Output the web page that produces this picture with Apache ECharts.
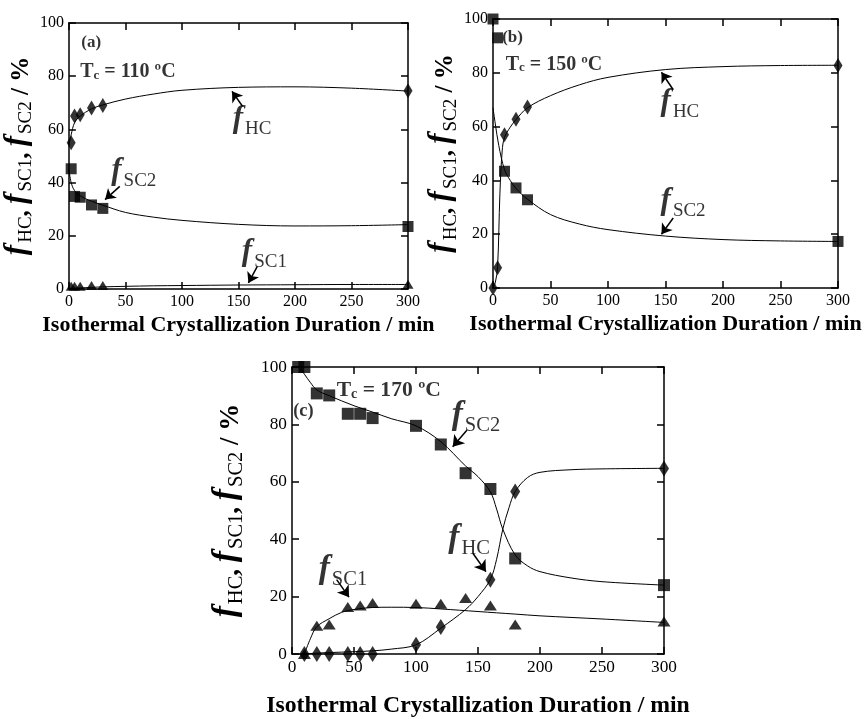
<!DOCTYPE html>
<html><head><meta charset="utf-8">
<script src="https://cdn.jsdelivr.net/npm/echarts@6/dist/echarts.min.js"></script>
<style>html,body{margin:0;padding:0;background:#fff}#c{width:868px;height:719px}</style>
</head><body><div id="c"></div>
<script>
// ---------- Panel (a): Tc = 110 C ----------
const aTime = [2, 5, 10, 20, 30, 300];
const aHC   = [55, 65, 65.5, 68, 69, 74.5];
const aSC1  = [1, 1, 1, 1.3, 1.3, 1.8];
const aSC2  = [45.2, 34.8, 34.5, 31.6, 30.3, 23.5];
const aFitX   = [0, 2, 5, 10, 20, 30, 50, 75, 100, 150, 200, 250, 300];
const aFitHC  = [54, 58, 62.5, 65, 67.7, 69.2, 71.4, 73.3, 74.7, 75.8, 76, 75.5, 74.4];
const aFitSC2 = [45, 40, 37, 35, 33, 31.5, 28.8, 27, 25.8, 24.3, 23.7, 23.8, 24.2];
const aFitSC1 = [0, 0.2, 0.3, 0.4, 0.6, 0.8, 1.0, 1.2, 1.3, 1.5, 1.6, 1.7, 1.7];

// ---------- Panel (b): Tc = 150 C ----------
const bTime = [0, 4, 10, 20, 30, 300];
const bHC   = [0, 7.5, 57, 62.7, 67.3, 82.7];
const bSC2Time = [0, 4, 10, 20, 30, 300];
const bSC2  = [100, 93, 43.4, 37.2, 32.8, 17.3];
const bFitHCX = [0, 2, 4, 6, 8, 10, 15, 20, 30, 50, 75, 100, 150, 200, 250, 300];
const bFitHC  = [0, 2, 8, 35, 51, 56, 59.8, 62.6, 67, 71.5, 75.5, 78.3, 81.2, 82.3, 82.7, 82.8];
const bFitSC2X = [0, 2, 5, 10, 15, 20, 30, 50, 75, 100, 150, 200, 250, 300];
const bFitSC2  = [67, 61, 53, 44, 40, 37, 33, 27.3, 23.8, 21.7, 19.3, 18, 17.5, 17.3];

// ---------- Panel (c): Tc = 170 C ----------
const cSC2Time = [5, 10, 20, 30, 45, 55, 65, 100, 120, 140, 160, 180, 300];
const cSC2     = [100, 100, 90.8, 90.1, 83.7, 83.7, 82.2, 79.5, 73, 63, 57.5, 33.3, 24];
const cHCTime  = [10, 20, 30, 45, 55, 65, 100, 120, 160, 180, 300];
const cHC      = [0, 0, 0, 0, 0, 0, 3.2, 9.4, 25.9, 56.6, 64.6];
const cSC1Time = [10, 20, 30, 45, 55, 65, 100, 120, 140, 160, 180, 300];
const cSC1     = [0, 9.8, 10.3, 16.4, 16.9, 17.8, 17.5, 17.5, 19.5, 16.9, 10.3, 11.3];
const cFitSC2X = [7, 10, 15, 20, 30, 50, 65, 80, 100, 120, 140, 150, 160, 165, 170, 180, 190, 200, 225, 250, 300];
const cFitSC2  = [99.5, 97.5, 94.5, 92, 90, 86.5, 84.3, 82, 79.5, 74, 65.5, 61.8, 56.5, 50.5, 43.5, 34.5, 30.7, 28.7, 26.5, 25.2, 24];
const cFitHCX  = [10, 20, 30, 50, 65, 80, 100, 120, 140, 150, 160, 165, 170, 175, 180, 190, 200, 225, 250, 300];
const cFitHC   = [0, 0.3, 0.5, 0.8, 1.1, 1.7, 3.2, 9, 15.5, 20, 26, 33, 43.5, 51, 56.6, 61.5, 63.3, 64.2, 64.5, 64.7];
const cFitSC1X = [10, 15, 20, 30, 40, 50, 65, 80, 100, 120, 150, 180, 200, 250, 300];
const cFitSC1  = [0, 5.5, 9.5, 12.3, 14.5, 15.5, 16.2, 16.3, 16.2, 15.7, 14.8, 13.9, 13.3, 12.2, 11];

// ---------- Axis ticks / texts ----------
const xMin = 0, xMax = 300, xStep = 50;
const yMin = 0, yMax = 100, yStep = 20;
const xTitle = 'Isothermal Crystallization Duration / min';
const panelTags = ['(a)', '(b)', '(c)'];
const panelTemps = ['110', '150', '170'];
const tagPos  = [[11, 92.5], [8, 93], [1, 84.5]];
const tempPos = [[10, 82], [11, 83.5], [36, 92]];
const aLabels = [['HC', 145, 62.5], ['SC2', 37.5, 43], ['SC1', 153, 12.5]];
const bLabels = [['HC', 145.7, 67.5], ['SC2', 145.7, 31]];
const cLabels = [['SC2', 128.8, 81.6], ['HC', 126, 39], ['SC1', 21.5, 28]];
const aArrows = [[153.6, 68.7, 144.3, 74.3], [45, 38.6, 32, 33.6], [166.7, 8.5, 158.8, 2.3]];
const bArrows = [[156.7, 73.7, 146.5, 80.2], [156.7, 26, 146.5, 20]];
const cArrows = [[141, 78, 129.6, 72.2], [146, 35, 156.4, 28.7], [36, 25.9, 46, 19.8]];

const SERIF = 'Liberation Serif';
const zip = (xs, ys) => xs.map((x, i) => [x, ys[i]]);

function fRich(k) {
  return {
    f: {fontFamily: SERIF, fontStyle: 'italic', fontWeight: 'bold', fontSize: 31 * k, color: '#000', verticalAlign: 'bottom', lineHeight: 31 * k, padding: [0, 2, 4 * k, 0]},
    s: {fontFamily: SERIF, fontSize: 19 * k, color: '#000', verticalAlign: 'bottom', lineHeight: 19 * k},
    t: {fontFamily: SERIF, fontWeight: 'bold', fontSize: 25 * k, color: '#000', verticalAlign: 'bottom', lineHeight: 27 * k, padding: [0, 0, 2 * k, 0]},
    b: {fontFamily: SERIF, fontWeight: 'bold', fontSize: 20 * k, color: '#000', verticalAlign: 'bottom', lineHeight: 22 * k},
    sc: {fontFamily: SERIF, fontWeight: 'bold', fontSize: 13 * k, color: '#000', verticalAlign: 'bottom', lineHeight: 13 * k},
    tag: {fontFamily: SERIF, fontWeight: 'bold', fontSize: 17 * k, color: '#000'}
  };
}

const grids = [], xAxes = [], yAxes = [], series = [];
const mkLine = () => ({show: true, onZero: false, lineStyle: {color: '#000', width: 1.5}});
// NOTE: outside=false -> inside ticks; use a tick with 'inside' and explicit styles
const mkTick = () => ({show: true, inside: true, length: 7, lineStyle: {color: '#000', width: 1.5, opacity: 1}});

function addPanel(gi, rect, k, nameGapX, nameGapY, scatters, fits, labels, arrows) {
  grids.push(Object.assign({containLabel: false, show: false}, rect));
  const lab = () => ({show: true, margin: 5, color: '#000', fontFamily: SERIF, fontSize: 16 * k});
  xAxes.push({gridIndex: gi, type: 'value', min: xMin, max: xMax, interval: xStep, position: 'bottom',
    axisLine: mkLine(), axisTick: mkTick(), splitLine: {show: false}, axisLabel: lab(),
    name: xTitle, nameLocation: 'middle', nameGap: nameGapX,
    nameTextStyle: {color: '#000', fontFamily: SERIF, fontWeight: 'bold', fontSize: 22 * k}});
  xAxes.push({gridIndex: gi, type: 'value', min: xMin, max: xMax, interval: xStep, position: 'top',
    axisLine: mkLine(), axisTick: mkTick(), splitLine: {show: false}, axisLabel: {show: false}});
  yAxes.push({gridIndex: gi, type: 'value', min: yMin, max: yMax, interval: yStep, position: 'left',
    axisLine: mkLine(), axisTick: mkTick(), splitLine: {show: false}, axisLabel: lab(),
    name: '{f|f}{s|HC}{t|, }{f|f}{s|SC1}{t|, }{f|f}{s|SC2}{t| / %}',
    nameLocation: 'middle', nameRotate: 90, nameGap: nameGapY,
    nameTextStyle: {rich: fRich(k)}});
  yAxes.push({gridIndex: gi, type: 'value', min: yMin, max: yMax, interval: yStep, position: 'right',
    axisLine: mkLine(), axisTick: mkTick(), splitLine: {show: false}, axisLabel: {show: false}});
  const xi = 2 * gi, yi = 2 * gi;
  fits.forEach(d => series.push({type: 'line', xAxisIndex: xi, yAxisIndex: yi, data: d, smooth: 0.35,
    showSymbol: false, symbol: 'none', lineStyle: {color: '#000', width: 1}, z: 2, silent: true}));
  scatters.forEach(s => series.push({type: 'scatter', xAxisIndex: xi, yAxisIndex: yi, data: s.data,
    symbol: s.symbol, symbolSize: s.size, itemStyle: {color: '#000'}, z: 3, silent: true}));
  const rich = fRich(k);
  const textData = [];
  textData.push({value: tagPos[gi], label: {formatter: '{tag|' + panelTags[gi] + '}'}});
  textData.push({value: tempPos[gi], label: {formatter: '{b|T}{sc|c}{b| = ' + panelTemps[gi] + ' \u00baC}'}});
  labels.forEach(l => textData.push({value: [l[1], l[2]], label: {formatter: '{f|f}{s|' + l[0] + '}'}}));
  series.push({type: 'scatter', xAxisIndex: xi, yAxisIndex: yi, data: textData, symbolSize: 0, z: 5, silent: true,
    label: {show: true, position: 'right', distance: 0, rich},
    markLine: {silent: true, symbol: ['none', 'arrow'], symbolSize: 10 * k, animation: false,
      itemStyle: {color: '#000'},
      lineStyle: {color: '#000', width: 1.5, type: 'solid'}, label: {show: false},
      data: arrows.map(a => [{coord: [a[0], a[1]]}, {coord: [a[2], a[3]]}])}});
}

const dia = [9, 15], sq = 11, tri = [11, 9];
addPanel(0, {left: 63, top: 23, width: 345, height: 266}, 1, 25, 28,
  [{data: zip(aTime, aHC), symbol: 'diamond', size: dia},
   {data: zip(aTime, aSC2), symbol: 'rect', size: sq},
   {data: zip(aTime, aSC1), symbol: 'triangle', size: tri}],
  [zip(aFitX, aFitHC), zip(aFitX, aFitSC2), zip(aFitX, aFitSC1)], aLabels, aArrows);
addPanel(1, {left: 493, top: 19, width: 345, height: 269}, 1, 25, 15,
  [{data: zip(bTime, bHC), symbol: 'diamond', size: dia},
   {data: zip(bSC2Time, bSC2), symbol: 'rect', size: sq}],
  [zip(bFitHCX, bFitHC), zip(bFitSC2X, bFitSC2)], bLabels, bArrows);
addPanel(2, {left: 292, top: 367, width: 372, height: 290}, 1.08, 40, 45,
  [{data: zip(cHCTime, cHC), symbol: 'diamond', size: [10, 16]},
   {data: zip(cSC2Time, cSC2), symbol: 'rect', size: 12},
   {data: zip(cSC1Time, cSC1), symbol: 'triangle', size: [13, 10]}],
  [zip(cFitSC2X, cFitSC2), zip(cFitHCX, cFitHC), zip(cFitSC1X, cFitSC1)], cLabels, cArrows);

const chart = echarts.init(document.getElementById('c'), null, {renderer: 'canvas'});
chart.setOption({animation: false, backgroundColor: '#fff', grid: grids, xAxis: xAxes, yAxis: yAxes, series});
</script></body></html>
